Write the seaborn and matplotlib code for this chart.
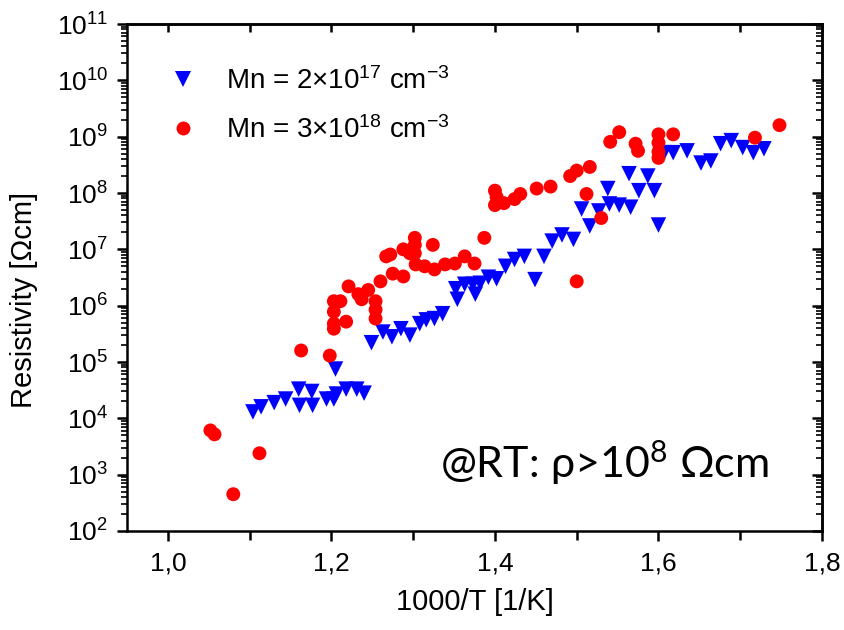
import numpy as np
import pandas as pd
import matplotlib
matplotlib.use("Agg")
import matplotlib.pyplot as plt
import seaborn as sns
from matplotlib.lines import Line2D
from matplotlib.ticker import LogLocator, NullFormatter

# ---------------- data ----------------
series_names = ["Mn = 2×10$^{17}$ cm$^{-3}$", "Mn = 3×10$^{18}$ cm$^{-3}$"]
series_colors = ["#0000ff", "#ff0000"]
series_markers = ["v", "o"]

mn17_x = [1.104, 1.114, 1.130, 1.144, 1.160, 1.176, 1.161, 1.177, 1.194, 1.203,
          1.206, 1.205, 1.218, 1.231, 1.240, 1.249, 1.263, 1.274, 1.285, 1.296,
          1.308, 1.316, 1.326, 1.336, 1.352, 1.354, 1.363, 1.373, 1.376, 1.382,
          1.392, 1.402, 1.413, 1.424, 1.436, 1.449, 1.460, 1.470, 1.482, 1.496,
          1.506, 1.516, 1.527, 1.538, 1.540, 1.552, 1.566, 1.564, 1.576, 1.587,
          1.595, 1.600, 1.607, 1.618, 1.635, 1.652, 1.664, 1.676, 1.689, 1.703,
          1.716, 1.729]
mn17_rho = [1.3e4, 1.6e4, 1.9e4, 2.2e4, 3.3e4, 3.0e4, 1.7e4, 1.7e4, 2.2e4, 2.2e4,
            2.7e4, 7.5e4, 3.3e4, 3.3e4, 2.8e4, 2.2e5, 3.4e5, 2.8e5, 3.9e5, 3.0e5,
            4.8e5, 5.6e5, 5.9e5, 7.2e5, 2.0e6, 1.3e6, 2.4e6, 2.4e6, 1.6e6, 2.5e6,
            3.2e6, 3.0e6, 5.0e6, 6.6e6, 7.5e6, 2.9e6, 7.5e6, 1.4e7, 1.8e7, 1.5e7,
            5.2e7, 2.6e7, 4.8e7, 1.2e8, 6.4e7, 6.1e7, 5.6e7, 2.2e8, 1.1e8, 2.0e8,
            1.1e8, 2.7e7, 5.2e8, 5.2e8, 5.6e8, 3.4e8, 3.7e8, 7.5e8, 8.5e8, 6.4e8,
            5.2e8, 6.1e8]

mn18_x = [1.052, 1.057, 1.080, 1.112, 1.163, 1.198, 1.203, 1.203, 1.203, 1.203,
          1.211, 1.218, 1.221, 1.233, 1.237, 1.245, 1.254, 1.254, 1.254, 1.260,
          1.267, 1.272, 1.275, 1.288, 1.288, 1.296, 1.302, 1.302, 1.302, 1.303,
          1.314, 1.324, 1.326, 1.339, 1.351, 1.363, 1.375, 1.387, 1.400, 1.402,
          1.400, 1.411, 1.424, 1.431, 1.451, 1.468, 1.492, 1.500, 1.500, 1.512,
          1.516, 1.530, 1.541, 1.552, 1.572, 1.575, 1.600, 1.600, 1.600, 1.600,
          1.618, 1.718, 1.748]
mn18_rho = [6.1e3, 5.2e3, 4.5e2, 2.4e3, 1.6e5, 1.3e5, 4.8e5, 3.9e5, 7.8e5, 1.2e6,
            1.2e6, 5.2e5, 2.2e6, 1.6e6, 1.3e6, 1.9e6, 1.2e6, 8.5e5, 5.9e5, 2.7e6,
            7.5e6, 8.1e6, 3.7e6, 3.3e6, 1.0e7, 8.5e6, 1.6e7, 1.2e7, 8.5e6, 5.4e6,
            5.0e6, 1.2e7, 4.4e6, 5.4e6, 5.6e6, 7.5e6, 5.6e6, 1.6e7, 1.1e8, 8.5e7,
            6.1e7, 6.6e7, 7.8e7, 9.6e7, 1.2e8, 1.3e8, 2.0e8, 2.5e8, 2.7e6, 9.6e7,
            2.9e8, 3.6e7, 8.1e8, 1.2e9, 7.5e8, 5.6e8, 1.1e9, 7.8e8, 5.4e8, 4.2e8,
            1.1e9, 9.6e8, 1.6e9]

xtick_vals = [1.0, 1.2, 1.4, 1.6, 1.8]
xtick_labels = ["1,0", "1,2", "1,4", "1,6", "1,8"]
xminor_vals = [1.1, 1.3, 1.5, 1.7]
ytick_vals = [1e2, 1e3, 1e4, 1e5, 1e6, 1e7, 1e8, 1e9, 1e10, 1e11]

x_label = "1000/T [1/K]"
y_label = "Resistivity [Ωcm]"
note_text = "@RT: ρ>10$^{8}$ Ωcm"

# ---------------- style ----------------
sns.set_style("ticks")
plt.rcParams["font.family"] = ["Liberation Sans", "DejaVu Sans"]
plt.rcParams["mathtext.default"] = "regular"
for key in ["axes.edgecolor", "xtick.color", "ytick.color", "text.color",
            "axes.labelcolor", "xtick.labelcolor", "ytick.labelcolor"]:
    plt.rcParams[key] = "black"

df = pd.DataFrame({
    "x": mn17_x + mn18_x,
    "rho": mn17_rho + mn18_rho,
    "series": [series_names[0]] * len(mn17_x) + [series_names[1]] * len(mn18_x),
})

fig = plt.figure(figsize=(8.44, 6.3), dpi=100)
ax = fig.add_axes([127 / 844, 1 - 531 / 630, 695 / 844, 507 / 630])

sns.scatterplot(
    data=df, x="x", y="rho", hue="series", style="series", size="series",
    hue_order=series_names, style_order=series_names, size_order=series_names,
    palette=dict(zip(series_names, series_colors)),
    markers=dict(zip(series_names, series_markers)),
    sizes=dict(zip(series_names, [125, 100])),
    linewidth=0, edgecolor="none", alpha=1, legend=False, ax=ax,
)

ax.set_yscale("log")
ax.set_xlim(0.95, 1.8)
ax.set_ylim(1e2, 1e11)

ax.set_xticks(xtick_vals)
ax.set_xticklabels(xtick_labels)
ax.set_xticks(xminor_vals, minor=True)
ax.set_yticks(ytick_vals)
ax.yaxis.set_minor_locator(LogLocator(base=10, subs=np.arange(2, 10), numticks=100))
ax.yaxis.set_minor_formatter(NullFormatter())

lw = 1.8
for sp in ax.spines.values():
    sp.set_linewidth(lw)
    sp.set_visible(True)
    sp.set_color("black")

ax.tick_params(axis="y", which="major", direction="out", length=7.5, width=lw,
               labelsize=19, right=False, pad=6, colors="black")
ax.tick_params(axis="x", which="major", direction="out", length=7, width=lw,
               labelsize=19, top=False, pad=8, colors="black")
ax.tick_params(axis="x", which="minor", direction="out", length=6.5, width=lw,
               top=False, colors="black")
ax.tick_params(axis="y", which="minor", direction="out", length=4, width=1.2,
               right=False, colors="black")

top = ax.secondary_xaxis("top")
top.set_xticks(xtick_vals)
top.set_xticks(xminor_vals, minor=True)
top.xaxis.set_major_formatter(NullFormatter())
top.tick_params(which="both", direction="in", length=5.5, width=lw, colors="black")
top.spines["top"].set_linewidth(lw)
top.spines["top"].set_color("black")

right = ax.secondary_yaxis("right")
right.set_yticks(ytick_vals)
right.yaxis.set_minor_locator(LogLocator(base=10, subs=np.arange(2, 10), numticks=100))
right.yaxis.set_major_formatter(NullFormatter())
right.yaxis.set_minor_formatter(NullFormatter())
right.tick_params(which="major", direction="in", length=7.5, width=lw, colors="black")
right.tick_params(which="minor", direction="in", length=4, width=1.2, colors="black")
right.spines["right"].set_linewidth(lw)
right.spines["right"].set_color("black")

ax.set_xlabel(x_label, fontsize=21)
ax.set_ylabel(y_label, fontsize=21)
ax.xaxis.set_label_coords(0.5, -0.112)
ax.yaxis.set_label_coords(-0.128, 0.456)

handles = [Line2D([], [], marker=m, color=c, linestyle="", markersize=ms,
                  markeredgewidth=0)
           for m, c, ms in zip(series_markers, series_colors, [11, 10])]
ax.legend(handles, series_names, loc="upper left", bbox_to_anchor=(0.0626, 0.915),
          frameon=False, fontsize=20, handlelength=0.9, handletextpad=1.1,
          labelspacing=0.75, borderpad=0, borderaxespad=0)

fig.text(440 / 844, 1 - 478 / 630, note_text, fontsize=31,
         family=["Lato", "Open Sans", "DejaVu Sans"], va="baseline")

fig.savefig("out.png", dpi=100)
